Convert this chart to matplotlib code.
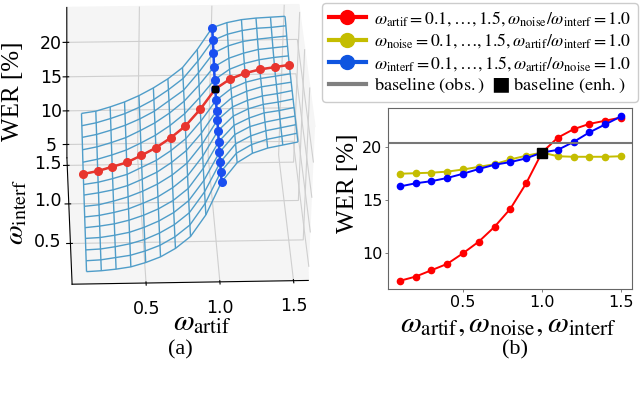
import numpy as np
import matplotlib
matplotlib.use("Agg")
import matplotlib.pyplot as plt
from matplotlib.lines import Line2D
from mpl_toolkits.mplot3d import Axes3D

plt.rcParams['mathtext.fontset'] = 'stix'
plt.rcParams['font.family'] = 'DejaVu Sans'

weights = [0.1, 0.2, 0.3, 0.4, 0.5, 0.6, 0.7, 0.8, 0.9, 1.0, 1.1, 1.2, 1.3, 1.4, 1.5]
wer_artif = [7.4, 7.8, 8.4, 9.0, 10.0, 11.1, 12.5, 14.2, 16.6, 19.5, 20.9, 21.7, 22.2, 22.5, 22.8]
wer_noise = [17.5, 17.55, 17.6, 17.7, 17.9, 18.15, 18.4, 18.85, 19.2, 19.5, 19.15, 19.1, 19.1, 19.1, 19.15]
wer_interf = [16.3, 16.6, 16.8, 17.1, 17.5, 17.95, 18.35, 18.6, 18.95, 19.5, 19.75, 20.5, 21.4, 22.15, 22.9]
baseline_obs = 20.38
baseline_enh = 19.5

# surface rows: one per omega_interf, columns are omega_artif
surface = [
    [3.6, 3.7, 3.9, 4.2, 4.8, 5.6, 6.8, 8.5, 11.6, 16.3, 19.0, 20.3, 21.0, 21.4, 21.8],
    [4.0, 4.1, 4.4, 4.7, 5.3, 6.1, 7.3, 9.0, 12.1, 16.6, 19.2, 20.4, 21.1, 21.5, 21.9],
    [4.4, 4.5, 4.8, 5.2, 5.8, 6.7, 7.9, 9.6, 12.6, 16.8, 19.4, 20.5, 21.2, 21.6, 22.0],
    [4.9, 5.0, 5.3, 5.7, 6.4, 7.3, 8.5, 10.2, 13.1, 17.1, 19.6, 20.7, 21.3, 21.7, 22.1],
    [5.3, 5.5, 5.8, 6.3, 7.0, 7.9, 9.1, 10.8, 13.7, 17.5, 19.8, 20.8, 21.5, 21.8, 22.2],
    [5.7, 5.9, 6.3, 6.8, 7.6, 8.5, 9.8, 11.5, 14.3, 17.95, 20.0, 21.0, 21.6, 21.9, 22.3],
    [6.1, 6.3, 6.8, 7.4, 8.2, 9.2, 10.5, 12.2, 14.9, 18.35, 20.2, 21.1, 21.7, 22.0, 22.4],
    [6.6, 6.9, 7.3, 7.9, 8.8, 9.8, 11.2, 12.9, 15.4, 18.6, 20.4, 21.3, 21.9, 22.2, 22.5],
    [7.0, 7.3, 7.8, 8.4, 9.4, 10.4, 11.8, 13.5, 16.0, 18.95, 20.6, 21.5, 22.0, 22.3, 22.6],
    [7.4, 7.8, 8.4, 9.0, 10.0, 11.1, 12.5, 14.2, 16.6, 19.5, 20.9, 21.7, 22.2, 22.5, 22.8],
    [8.0, 8.4, 9.0, 9.7, 10.7, 11.8, 13.2, 14.9, 17.2, 19.75, 21.2, 22.0, 22.5, 22.8, 23.0],
    [8.7, 9.1, 9.7, 10.4, 11.4, 12.5, 13.9, 15.6, 17.9, 20.5, 21.7, 22.4, 22.9, 23.1, 23.3],
    [9.4, 9.8, 10.4, 11.1, 12.0, 13.1, 14.6, 16.1, 18.6, 21.4, 22.4, 23.0, 23.3, 23.5, 23.7],
    [10.0, 10.4, 11.0, 11.7, 12.6, 13.7, 15.1, 16.7, 19.2, 22.15, 23.0, 23.5, 23.8, 23.9, 24.1],
    [10.7, 11.0, 11.6, 12.3, 13.2, 14.3, 15.6, 17.2, 19.8, 22.9, 23.6, 24.0, 24.2, 24.3, 24.4],
]

fig = plt.figure(figsize=(6.4, 3.94), dpi=100)
W, H = 640.0, 394.0

# (a) surface
ax3 = fig.add_axes([0.004, 0.15, 0.56, 0.95], projection='3d')
ax3.set_proj_type('persp', focal_length=2.0)
ax3.view_init(elev=35, azim=-93.5, roll=-1.2)
ax3.set_box_aspect((240, 222, 190), zoom=1.0)
X, Y = np.meshgrid(weights, weights)
ax3.plot_wireframe(X, Y, np.array(surface), color='#4f9dc9', linewidth=1.0)
ax3.plot(weights, [1.0] * 15, wer_artif, color='#e8352e', lw=1.8, marker='o', ms=5.5, zorder=5)
ax3.plot([1.0] * 15, weights, wer_interf, color='#1a4ff0', lw=1.8, marker='o', ms=5.5, zorder=6)
ax3.plot([1.0], [1.0], [baseline_enh], color='k', marker='s', ms=5, zorder=7)
ax3.set_xlim(0, 1.6)
ax3.set_ylim(0, 1.6)
ax3.set_zlim(3, 25)
ax3.set_xticks([0.5, 1.0, 1.5])
ax3.set_yticks([0.5, 1.0, 1.5])
ax3.set_zticks([5, 10, 15, 20])
ax3.set_yticklabels(['', '', ''])
ax3.tick_params(labelsize=12.5, pad=1)
ax3.tick_params(axis='x', pad=0)
for axis in (ax3.xaxis, ax3.yaxis, ax3.zaxis):
    axis.set_pane_color('#f5f5f5')
    axis._axinfo['grid']['color'] = '#cfcfcf'
    axis._axinfo['grid']['linewidth'] = 0.8

for lab, py in zip(['0.5', '1.0', '1.5'], [242, 201, 164]):
    fig.text(48 / W, 1 - py / H, lab, fontsize=12.5, ha='center', va='center')

# (b) curves
ax = fig.add_axes([388 / W, 1 - 289 / H, 244 / W, 181 / H])
ax.plot(weights, wer_artif, color='r', lw=1.4, marker='o', ms=4.5)
ax.plot(weights, wer_noise, color='#c4bd00', lw=1.4, marker='o', ms=4.5)
ax.plot(weights, wer_interf, color='b', lw=1.4, marker='o', ms=4.5)
ax.axhline(baseline_obs, color='#777777', lw=1.5)
ax.plot([1.0], [baseline_enh], color='k', marker='s', ms=6.5, zorder=6)
ax.set_xlim(0.025, 1.57)
ax.set_ylim(6.63, 23.7)
ax.set_xticks([0.5, 1.0, 1.5])
ax.set_yticks([10, 15, 20])
ax.tick_params(labelsize=11.5, length=2, width=0.6, pad=2, color='#666666')
for s in ax.spines.values():
    s.set_color('#666666')

# legend
handles = [
    Line2D([], [], color='#ff0000', lw=3, marker='o', ms=10),
    Line2D([], [], color='#c4bd00', lw=3, marker='o', ms=10),
    Line2D([], [], color='#0f55e0', lw=3, marker='o', ms=10),
    Line2D([], [], color='#808080', lw=3),
]
labels = [
    r'$\omega_{\mathrm{artif}}=0.1,\ldots,1.5,\omega_{\mathrm{noise}}/\omega_{\mathrm{interf}}=1.0$',
    r'$\omega_{\mathrm{noise}}=0.1,\ldots,1.5,\omega_{\mathrm{artif}}/\omega_{\mathrm{interf}}=1.0$',
    r'$\omega_{\mathrm{interf}}=0.1,\ldots,1.5,\omega_{\mathrm{artif}}/\omega_{\mathrm{noise}}=1.0$',
    r'$\mathrm{baseline\ (obs.)}\ \ \blacksquare\ \mathrm{baseline\ (enh.)}$',
]
leg = fig.legend(handles, labels, loc='upper right', bbox_to_anchor=(638 / W, 1 - 3 / H), fontsize=12.7,
                 borderaxespad=0, handlelength=2.1, handletextpad=0.5, labelspacing=0.2,
                 borderpad=0.35, edgecolor='#cccccc', framealpha=1)
leg.get_texts()[3].set_fontsize(13.2)

# labels
serif = 'Liberation Serif'
fig.text(13 / W, 1 - 91 / H, 'WER [%]', rotation=90, family=serif, fontsize=18, ha='center', va='center')
fig.text(15 / W, 1 - 212 / H, r'$\omega_{\mathrm{interf}}$', rotation=90, fontsize=20.5, ha='center', va='center')
fig.text(202 / W, 1 - 322 / H, r'$\omega_{\mathrm{artif}}$', fontsize=21.5, ha='center', va='center')
fig.text(348 / W, 1 - 183 / H, 'WER [%]', rotation=90, family=serif, fontsize=18, ha='center', va='center')
fig.text(508 / W, 1 - 323 / H, r'$\omega_{\mathrm{artif}},\omega_{\mathrm{noise}},\omega_{\mathrm{interf}}$',
         fontsize=21.7, ha='center', va='center')
fig.text(180 / W, 1 - 350 / H, '(a)', family=serif, fontsize=16, ha='center', va='center')
fig.text(515 / W, 1 - 350 / H, '(b)', family=serif, fontsize=16, ha='center', va='center')

fig.savefig('out.png', dpi=100)
